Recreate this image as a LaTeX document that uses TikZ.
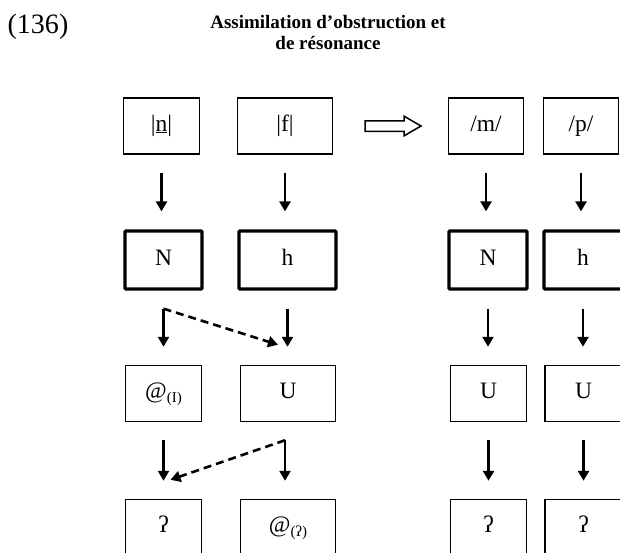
\documentclass[tikz,border=0pt]{standalone}
\usepackage{fontspec}
\setmainfont{Liberation Serif}
\usetikzlibrary{arrows.meta,shapes.arrows,calc}
\newcommand{\lowsub}[1]{\raisebox{-4pt}{\fontsize{15}{15}\selectfont #1}}
\tikzset{
  seg/.style={draw,line width=1.5pt,minimum height=56pt,inner sep=0pt,
    text height=16pt,text depth=6pt,font=\fontsize{23.5}{26}\selectfont},
  elt/.style={seg,line width=3.3pt,minimum height=58pt,rounded corners=1pt},
  flow/.style={line width=2.6pt,-{Triangle[length=10pt,width=11pt]},
    shorten <=18pt,shorten >=18pt},
  link/.style={line width=2.6pt,dash pattern=on 8pt off 5pt,
    -{Triangle[length=10pt,width=11pt]}},
  hollow/.style={draw,line width=1.5pt,single arrow,minimum height=56pt,
    inner sep=4.5pt,single arrow head extend=4.5pt,single arrow tip angle=60}
}
\begin{document}
\begin{tikzpicture}[x=1pt,y=-1pt]
\useasboundingbox (0,0) rectangle (620,552);
\clip (0,0) rectangle (620,552);
% heading
\node[font=\fontsize{28}{30}\selectfont] (num) at (38,27) {(136)};
\node[font=\fontsize{19}{21}\selectfont\bfseries,align=center] (title) at (328,32)
  {Assimilation d’obstruction et\\de résonance};
% input segments
\node[seg,minimum width=76pt] (n) at (161.5,126) {|\underline{n}|};
\node[seg,minimum width=95pt] (f) at (285,126) {|f|};
\node[seg,minimum width=75pt] (m) at (486,126) {/m/};
\node[seg,minimum width=75pt] (p) at (581,126) {/p/};
\node[hollow] (impl) at ([xshift=-2pt]$(f.east)!.5!(m.west)$) {};
% head elements
\node[elt,minimum width=77pt] (N1) at (163.5,260) {N};
\node[elt,minimum width=97pt] (h1) at (287.5,260) {h};
\node[elt,minimum width=78pt] (N2) at (488,260) {N};
\node[elt,minimum width=78pt] (h2) at (583,260) {h};
% operators
\node[seg,minimum width=76pt] (at1) at (163.5,393.5) {@\lowsub{(I)}};
\node[seg,minimum width=95pt] (U1) at (288,393.5) {U};
\node[seg,minimum width=76pt] (U2) at (488.5,393.5) {U};
\node[seg,minimum width=77pt] (U3) at (583.5,393.5) {U};
% output
\node[seg,minimum width=76pt] (q1) at (163.5,527.5) {ʔ};
\node[seg,minimum width=95pt] (at2) at (288,527.5) {@\lowsub{(ʔ)}};
\node[seg,minimum width=76pt] (q2) at (488.5,527.5) {ʔ};
\node[seg,minimum width=77pt] (q3) at (583.5,527.5) {ʔ};
% derivations
\draw[flow] (n.south) -- (n.south |- N1.north);
\draw[flow] (f.south) -- (f.south |- h1.north);
\draw[flow] (m.south) -- (m.south |- N2.north);
\draw[flow] (p.south) -- (p.south |- h2.north);
\draw[flow] (N1.south) -- (N1.south |- at1.north);
\draw[flow] (h1.south) -- (h1.south |- U1.north);
\draw[flow] (N2.south) -- (N2.south |- U2.north);
\draw[flow] (h2.south) -- (h2.south |- U3.north);
\draw[flow] (at1.south) -- (at1.south |- q1.north);
\draw[flow] ([xshift=-3pt]U1.south) -- ([xshift=-3pt]U1.south |- at2.north);
\draw[flow] (U2.south) -- (U2.south |- q2.north);
\draw[flow] (U3.south) -- (U3.south |- q3.north);
% spreading
\coordinate (s1) at ([yshift=-18pt]N1.south);
\coordinate (e1) at ([xshift=-10pt,yshift=20pt]U1.north);
\coordinate (s2) at ([xshift=-3pt,yshift=-18pt]U1.south);
\coordinate (e2) at ([xshift=7pt,yshift=19pt]q1.north);
\draw[link] (s1) -- (e1);
\draw[link] (s2) -- (e2);
\end{tikzpicture}
\end{document}
